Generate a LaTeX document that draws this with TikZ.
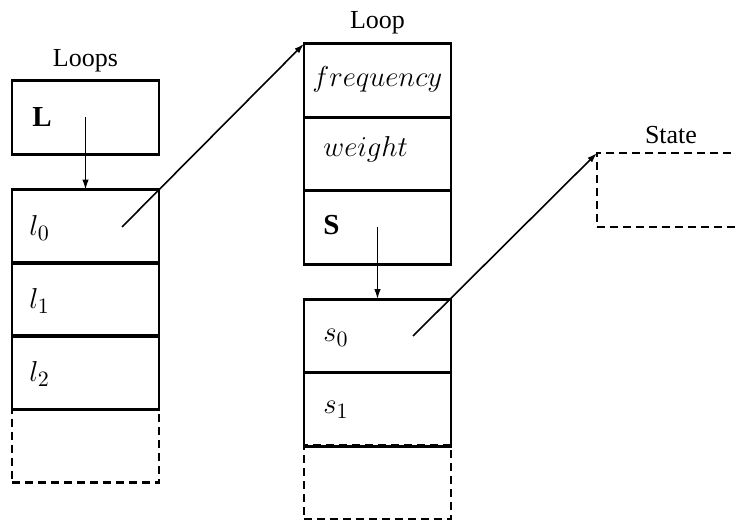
\documentclass[tikz,border=0pt]{standalone}
\usepackage{fontspec}
\setmainfont{Liberation Serif}
\DeclareMathSizes{14.5}{14.5}{11}{8.5}
\usetikzlibrary{arrows.meta}
\tikzset{
  x=0.5pt, y=-0.5pt,
  cell/.style={draw, line width=1.4pt, minimum width=73.5pt, minimum height=36.75pt, inner sep=0pt, outer sep=0pt},
  dcell/.style={cell, dash pattern=on 4pt off 2.5pt, line width=1.25pt},
  lab/.style={inner sep=0pt, anchor=base, font=\fontsize{13}{15}\selectfont},
  txt/.style={inner sep=0pt, anchor=base west, font=\fontsize{14.5}{17}\selectfont},
  arr/.style={line width=0.8pt, -{Latex[length=5pt,width=3.2pt]}}
}
\begin{document}
\begin{tikzpicture}
\useasboundingbox (0,0) rectangle (736,522);
\clip (0,0) rectangle (736,522);
% left column
\node[cell] (L) at (85.5,117.5) {};
\node[cell] (l0) at (85.5,226.5) {};
\node[cell] (l1) at (85.5,299.5) {};
\node[cell] (l2) at (85.5,372.5) {};
\node[dcell] (ld) at (85.5,446) {};
% middle column
\node[cell] (freq) at (377.5,80.5) {};
\node[cell] (weight) at (377.5,154) {};
\node[cell] (S) at (377.5,227.5) {};
\node[cell] (s0) at (377.5,336) {};
\node[cell] (s1) at (377.5,409.5) {};
\node[dcell] (sd) at (377.5,482.5) {};
% state
\node[dcell, minimum width=80pt, minimum height=37pt] (state) at (677,190) {};
% labels
\node[lab] (tloops) at (85.5,67) {Loops};
\node[lab] (tloop) at (377.5,29) {Loop};
\node[lab] (tstate) at (671,144) {State};
% texts
\node[txt] (tL) at (32,127) {\textbf{L}};
\node[txt] (tl0) at (29,236) {$l_0$};
\node[txt] (tl1) at (29,309) {$l_1$};
\node[txt] (tl2) at (29,382) {$l_2$};
\node[txt] (tfreq) at (312,87) {$frequency$};
\node[txt] (tweight) at (323,157) {$weight$};
\node[txt] (tS) at (323,235) {\textbf{S}};
\node[txt] (ts0) at (323,342) {$s_0$};
\node[txt] (ts1) at (323,414) {$s_1$};
% connectors
\coordinate (pL) at (85.5,117);
\coordinate (pl0) at (122,227);
\coordinate (pS) at (377.5,227);
\coordinate (ps0) at (413,336);
\draw[arr] (pL) -- (l0.north);
\draw[arr] (pl0) -- (freq.north west);
\draw[arr] (pS) -- (s0.north);
\draw[arr] (ps0) -- (state.north west);
\end{tikzpicture}
\end{document}
